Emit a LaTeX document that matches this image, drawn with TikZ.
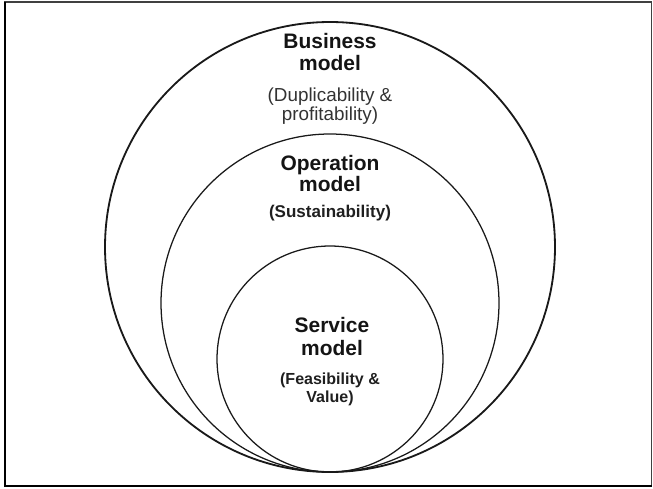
\documentclass[tikz,border=0pt]{standalone}
\usepackage{fontspec}
\setmainfont{Liberation Sans}
\usepackage{tikz}
\usetikzlibrary{positioning}

\begin{document}
\begin{tikzpicture}[
  ring/.style={draw=black!90, line width=0.9pt},
  title/.style={anchor=base, inner sep=0pt, text=black!92, font=\fontsize{14.9}{17}\selectfont\bfseries},
  note/.style={anchor=base, inner sep=0pt, text=black!80, font=\fontsize{13.4}{16}\selectfont},
  notebf/.style={anchor=base, inner sep=0pt, text=black!88, font=\fontsize{12.1}{14}\selectfont\bfseries}]
\useasboundingbox (0,0) rectangle (16.325,12.2);
% frame
\draw[line width=1.1pt, black!75] (0.125,0.05) rectangle (16.29,12.15);
\draw[line width=1.8pt] (0.125,12.15) -- (0.125,0.05) -- (16.29,0.05);
% the three circles, touching at the bottom
\draw[ring, line width=1.3pt] (8.25,6.025) circle (5.625);
\draw[ring] (8.25,4.625) circle (4.225);
\draw[ring] (8.25,3.225) circle (2.825);
% business
\node[title] (bus) at (8.25,10.975) {Business};
\node[title] (busmod) at (8.25,10.425) {model};
\node[note] (busnote) at (8.25,9.65) {(Duplicability \&};
\node[note] (busnote2) at (8.25,9.175) {profitability)};
% operation
\node[title] (op) at (8.25,7.925) {Operation};
\node[title] (opmod) at (8.25,7.4) {model};
\node[notebf] (opnote) at (8.25,6.75) {(Sustainability)};
% service
\node[title] (serv) at (8.3,3.875) {Service};
\node[title] (servmod) at (8.3,3.3) {model};
\node[notebf, font=\fontsize{11.4}{13}\selectfont\bfseries] (servnote) at (8.25,2.575) {(Feasibility \&};
\node[notebf, font=\fontsize{11.4}{13}\selectfont\bfseries] (servnote2) at (8.25,2.15) {Value)};
\end{tikzpicture}
\end{document}
